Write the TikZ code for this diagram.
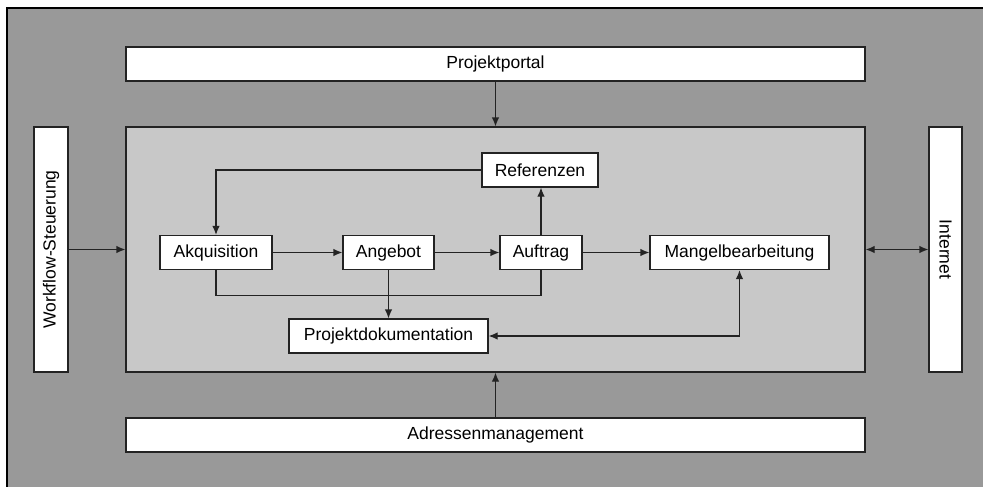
\documentclass[tikz,border=0pt]{standalone}
\usepackage{fontspec}
\setmainfont{Liberation Sans}
\usetikzlibrary{arrows.meta}
\definecolor{darkbg}{RGB}{153,153,153}
\definecolor{lightbg}{RGB}{200,200,200}
\definecolor{edge}{RGB}{35,35,35}
\tikzstyle{layer} = [rectangle, draw=edge, line width=1.2pt, fill=white, inner sep=0pt, text centered]
\tikzstyle{process} = [rectangle, draw=edge, line width=1.2pt, fill=white, minimum height=34pt, inner sep=0pt, text centered]
\tikzstyle{arrow} = [edge, line width=1.2pt, ->, >={Latex[length=9pt,width=7.5pt]}]
\tikzstyle{line} = [edge, line width=1.2pt]

\begin{document}
\begin{tikzpicture}[x=1pt, y=-1pt, font=\fontsize{17.5}{20}\selectfont]
\useasboundingbox (0,0) rectangle (983,487);

% Background
\fill[darkbg] (7,8) rectangle (983,487);
\draw[black, line width=1.8pt] (7,487) -- (7,8) -- (983,8);

% Outer layers
\node (portal) [layer, minimum width=739pt, minimum height=34pt] at (495.5,64) {Projektportal};
\node (adressen) [layer, minimum width=739pt, minimum height=34pt] at (495.5,435) {Adressenmanagement};
\node (core) [rectangle, draw=edge, line width=1.2pt, fill=lightbg, minimum width=739pt, minimum height=245pt] at (495.5,249.5) {};
\node (workflow) [layer, minimum width=34pt, minimum height=245pt] at (51,249.5) {};
\node [rotate=90] at (workflow.center) {Workflow-Steuerung};
\node (internet) [layer, minimum width=33pt, minimum height=245pt] at (945.5,249.5) {};
\node [rotate=-90] at (internet.center) {Internet};

% Process nodes
\node (referenzen) [process, minimum width=116pt] at (540,170) {Referenzen};
\node (akquisition) [process, minimum width=112pt] at (216,252.5) {Akquisition};
\node (angebot) [process, minimum width=91pt] at (388.5,252.5) {Angebot};
\node (auftrag) [process, minimum width=82pt] at (541,252.5) {Auftrag};
\node (mangel) [process, minimum width=179pt] at (739.5,252.5) {Mangelbearbeitung};
\node (doku) [process, minimum width=199pt] at (388.5,336) {Projektdokumentation};

% Arrows
\draw [arrow] (portal) -- (core.north -| portal.south);
\draw [arrow] (adressen) -- (core.south -| adressen.north);
\draw [arrow] (workflow.east |- core.west) -- (core.west);
\draw [arrow, <->] (core.east) -- (internet.west |- core.east);

\draw [arrow] (referenzen.west) -| (akquisition.north);
\draw [arrow] (akquisition) -- (angebot);
\draw [arrow] (angebot) -- (auftrag);
\draw [arrow] (auftrag) -- (mangel);
\draw [arrow] (auftrag.north) -- (referenzen.south -| auftrag.north);
\draw [line] (akquisition.south) -- ++(0,25) -| (auftrag.south);
\draw [arrow] (angebot.south) -- (doku.north);
\draw [arrow, <->] (doku.east) -| (mangel.south);

\end{tikzpicture}
\end{document}
